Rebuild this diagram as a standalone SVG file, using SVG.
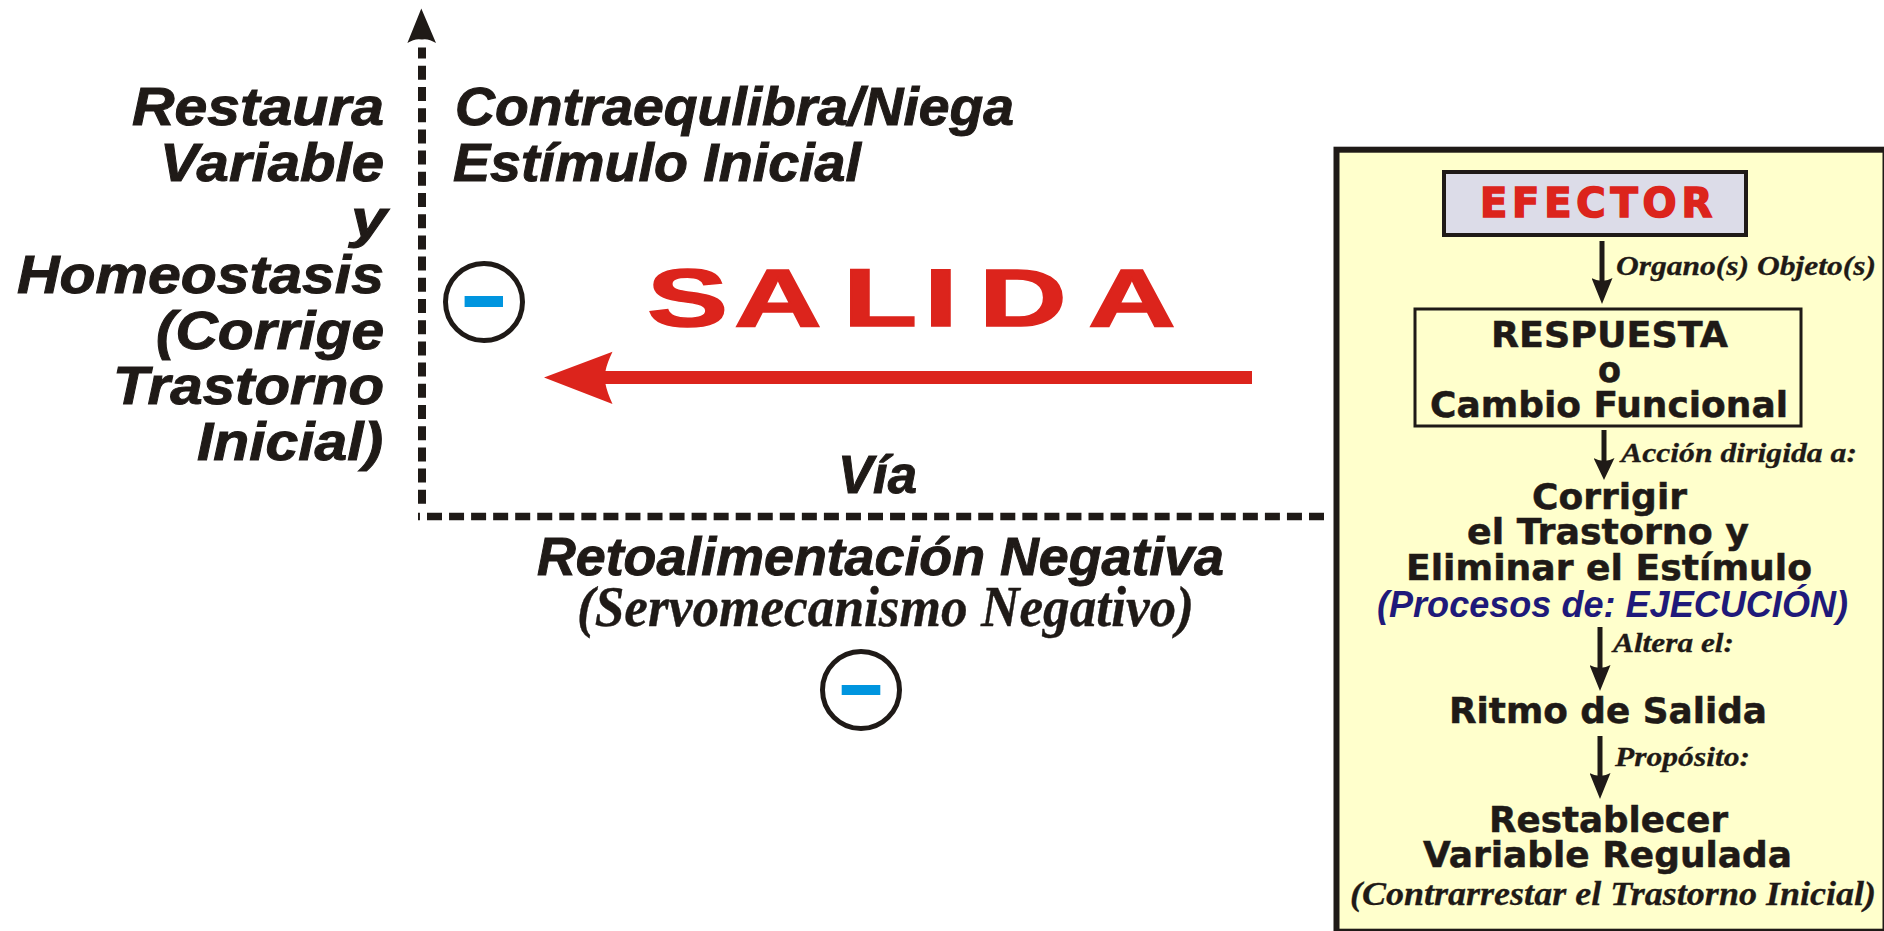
<svg xmlns="http://www.w3.org/2000/svg" width="1884" height="931" viewBox="0 0 1884 931">
<style>
text{fill:#1F1A17;white-space:pre}
.s{font:italic 700 54px "Liberation Sans",Arial,sans-serif;stroke:#1F1A17;stroke-width:1}
.p{font:700 35px "DejaVu Sans",Verdana,sans-serif;stroke:#1F1A17;stroke-width:.5}
.n{font:italic 700 28px "Liberation Serif","Times New Roman",serif;stroke:#1F1A17;stroke-width:.3}
.r{fill:#DC241C}
.k{fill:#1F1A17}
.b{fill:#0095DF}
.c{fill:#fff;stroke:#1F1A17;stroke-width:5}
.w{stroke:#1F1A17;stroke-width:5;fill:none}
.d{stroke:#1F1A17;fill:none}
</style>
<defs>
<marker id="h" markerUnits="userSpaceOnUse" viewBox="0 0 26 21" refX="4" refY="10.5" markerWidth="26" markerHeight="21" orient="auto"><path class="k" d="M26,10.5 L0,0 Q6,10.5 0,21 Z"/></marker>
<marker id="hs" markerUnits="userSpaceOnUse" viewBox="0 0 22 21" refX="4" refY="10.5" markerWidth="22" markerHeight="21" orient="auto"><path class="k" d="M22,10.5 L0,0 Q6,10.5 0,21 Z"/></marker>
</defs>

<g id="panel"><rect x="1336.5" y="149.7" width="549" height="782" fill="#FFFFCC" stroke="#1F1A17" stroke-width="6"/></g>

<g id="connectors">
<path class="d" stroke-width="8" d="M422,47.6V507" stroke-dasharray="14 7.2" stroke-dashoffset="3"/>
<path class="d" stroke-width="7.5" d="M1324,516.5H418" stroke-dasharray="15 7.05"/>
<path class="k" d="M421.3,8.6 L436,43 Q428,38 422,39.5 Q415,38 407.4,43 Z"/>
<path class="r" d="M544,377.5 L612.5,351.7 Q607,363 605.5,371 H1252 V384 H605.5 Q607,392 612.5,404 Z"/>
<path class="w" d="M1602,241V282" marker-end="url(#h)"/>
<path class="w" d="M1604,430V462" marker-end="url(#hs)"/>
<path class="w" d="M1600,627V669" marker-end="url(#h)"/>
<path class="w" d="M1600,736V777" marker-end="url(#h)"/>
</g>

<g id="restaura">
<text class="s" x="132" y="125" textLength="252" lengthAdjust="spacingAndGlyphs">Restaura</text>
<text class="s" x="160" y="181" textLength="224" lengthAdjust="spacingAndGlyphs">Variable</text>
<text class="s" x="351" y="237" textLength="36" lengthAdjust="spacingAndGlyphs">y</text>
<text class="s" x="17" y="292.5" textLength="367" lengthAdjust="spacingAndGlyphs">Homeostasis</text>
<text class="s" x="156" y="348.5" textLength="228" lengthAdjust="spacingAndGlyphs">(Corrige</text>
<text class="s" x="113" y="404" textLength="271" lengthAdjust="spacingAndGlyphs">Trastorno</text>
<text class="s" x="197" y="460" textLength="186" lengthAdjust="spacingAndGlyphs">Inicial)</text>
</g>
<g id="contraequilibra">
<text class="s" x="455" y="125" textLength="559" lengthAdjust="spacingAndGlyphs">Contraequlibra/Niega</text>
<text class="s" x="453" y="181" textLength="408" lengthAdjust="spacingAndGlyphs">Estímulo Inicial</text>
</g>
<g id="minus-1"><circle class="c" cx="484" cy="302" r="38.5"/><rect class="b" x="464.6" y="296" width="38.4" height="11"/></g>
<g id="minus-2"><circle class="c" cx="861" cy="690" r="38.5"/><rect class="b" x="841.7" y="685" width="38.6" height="10"/></g>
<g id="salida"><text class="r" transform="translate(647,326) scale(1.5,1)" x="0 58 130.7 184.7 221.3 294" y="0" style="font:700 81px 'Liberation Sans',Arial,sans-serif;stroke:#DC241C;stroke-width:1.5">SALIDA</text></g>
<g id="via"><text class="s" x="838" y="493" textLength="79" lengthAdjust="spacingAndGlyphs">Vía</text></g>
<g id="retro">
<text class="s" x="537" y="575" textLength="687" lengthAdjust="spacingAndGlyphs">Retoalimentación Negativa</text>
<text style="font:italic 700 58px 'Liberation Serif','Times New Roman',serif;stroke:#1F1A17;stroke-width:.4" x="577" y="625.5" textLength="617" lengthAdjust="spacingAndGlyphs">(Servomecanismo Negativo)</text>
</g>

<g id="efector"><rect x="1444" y="172" width="302" height="63" fill="#DCDCE8" stroke="#1F1A17" stroke-width="4"/>
<text class="r" style="font:700 40px 'DejaVu Sans',Verdana,sans-serif;stroke:#DC241C;stroke-width:1.6;letter-spacing:4.8px" x="1480" y="216.5">EFECTOR</text></g>
<g id="label-organo"><text class="n" x="1616" y="275" textLength="260" lengthAdjust="spacingAndGlyphs">Organo(s) Objeto(s)</text></g>
<g id="respuesta"><rect x="1415" y="309" width="386" height="117" fill="none" stroke="#1F1A17" stroke-width="3"/>
<text class="p" x="1491" y="347" textLength="237" lengthAdjust="spacingAndGlyphs">RESPUESTA</text>
<text class="p" x="1598" y="382" textLength="23" lengthAdjust="spacingAndGlyphs">o</text>
<text class="p" x="1430" y="417" textLength="358" lengthAdjust="spacingAndGlyphs">Cambio Funcional</text></g>
<g id="label-accion"><text class="n" x="1621" y="461.5" textLength="236" lengthAdjust="spacingAndGlyphs">Acción dirigida a:</text></g>
<g id="corrigir">
<text class="p" x="1532" y="508.5" textLength="155" lengthAdjust="spacingAndGlyphs">Corrigir</text>
<text class="p" x="1467" y="544" textLength="282" lengthAdjust="spacingAndGlyphs">el Trastorno y</text>
<text class="p" x="1406" y="580" textLength="406" lengthAdjust="spacingAndGlyphs">Eliminar el Estímulo</text>
<text style="font:italic 700 37px 'Liberation Sans',Arial,sans-serif;fill:#1F1A7A" x="1377" y="617" textLength="471" lengthAdjust="spacingAndGlyphs">(Procesos de: EJECUCIÓN)</text>
</g>
<g id="label-altera"><text class="n" x="1613" y="651.5" textLength="121" lengthAdjust="spacingAndGlyphs">Altera el:</text></g>
<g id="ritmo"><text class="p" x="1449" y="723" textLength="318" lengthAdjust="spacingAndGlyphs">Ritmo de Salida</text></g>
<g id="label-proposito"><text class="n" x="1615" y="766" textLength="135" lengthAdjust="spacingAndGlyphs">Propósito:</text></g>
<g id="restablecer">
<text class="p" x="1489" y="831.5" textLength="239" lengthAdjust="spacingAndGlyphs">Restablecer</text>
<text class="p" x="1423" y="866.5" textLength="369" lengthAdjust="spacingAndGlyphs">Variable Regulada</text>
<text style="font:italic 700 34px 'Liberation Serif','Times New Roman',serif;stroke:#1F1A17;stroke-width:.3" x="1350" y="905" textLength="526" lengthAdjust="spacingAndGlyphs">(Contrarrestar el Trastorno Inicial)</text>
</g>
</svg>
